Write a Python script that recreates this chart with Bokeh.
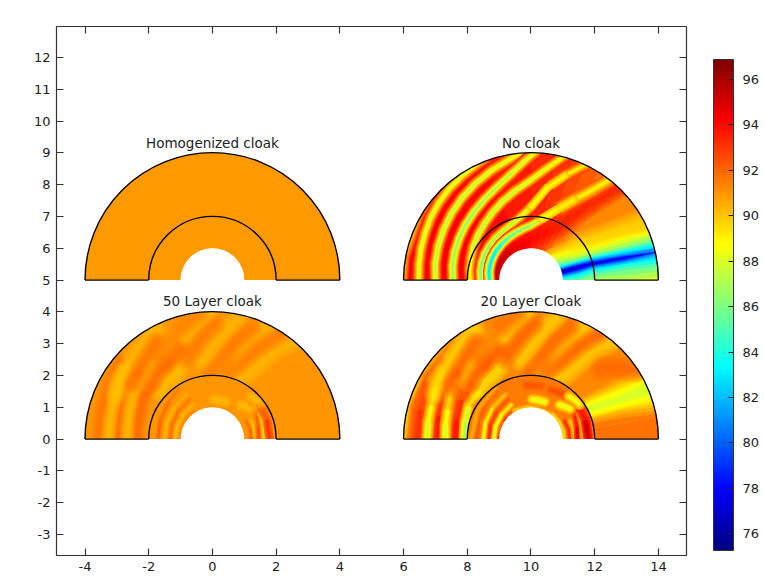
import math
from bokeh.plotting import figure
from bokeh.models import LinearColorMapper, ColorBar, FixedTicker, LinearAxis, Label, Range1d, ColumnDataSource
from bokeh.embed import file_html
from bokeh.resources import INLINE

X_TICKS = [-4, -2, 0, 2, 4, 6, 8, 10, 12, 14]
Y_TICKS = [-3, -2, -1, 0, 1, 2, 3, 4, 5, 6, 7, 8, 9, 10, 11, 12]
CBAR_TICKS = [76, 78, 80, 82, 84, 86, 88, 90, 92, 94, 96]
CBAR_LOW, CBAR_HIGH = 75.26, 96.88

PANEL_NAMES = ["Homogenized cloak", "No cloak", "50 Layer cloak", "20 Layer Cloak"]
PANEL_CENTERS = [(0, 5), (10, 5), (0, 0), (10, 0)]
PANEL_TEXT_Y = [9.3, 9.3, 4.33, 4.33]

# ---- sound level (dB). Sectors: (dB, from deg, to deg)
HOMOG_BASE = [(90.9, 0, 180)]
NO_BASE = [(91.3, 0, 46), (91.5, 46, 52), (91.8, 52, 58), (92.2, 58, 64), (92.6, 64, 70), (93, 70, 78), (93.3, 78, 90), (93.6, 90, 110), (94, 110, 132), (94.2, 132, 180)]
L50_BASE = [(91, 0, 180)]
L20_BASE = [(91.8, 0, 10), (91.6, 10, 14), (91.3, 14, 180)]
L50_INNER = [(91, 0, 180)]
L20_INNER = [(91.5, 0, 180)]

# Level bands: (dB, lower angle at each radius, upper angle at each radius)
BAND_R = [0.9, 1.5, 2, 3, 4.2]
NO_BANDS = [
 (91, [-3, -3, -3, -3, -3], [70, 52, 41, 33, 28]),
 (90.6, [-3, -3, -3, -3, -3], [67, 50, 39, 31.5, 27]),
 (90.2, [-3, -3, -3, -3, -3], [64, 47, 36, 29.5, 25.5]),
 (89.7, [-3, -3, -3, -3, -3], [60, 44, 34, 28, 24]),
 (89, [-3, -3, -3, -3, -3], [55, 40, 32, 26.5, 22.5]),
 (88.5, [-3, -3, -3, -3, -3], [51, 36, 30, 25, 21.7]),
 (88, [-3, -3, -3, -3, -1], [48, 33, 28, 24, 21]),
 (87, [-3, -3, -3, 0, 2], [42, 29, 25.5, 22, 20]),
 (86, [-3, -3, 2, 3, 4], [36, 26, 23.5, 20, 18.5]),
 (85, [-3, 0, 5, 6, 6], [32, 24, 22, 19, 17.5]),
 (84, [0, 3, 7, 8, 7.5], [29, 22.5, 21, 18, 16.5]),
 (83, [2, 6, 9, 9.5, 9], [27, 22, 20, 17.5, 15.5]),
 (82, [4, 8, 10.5, 10, 10.5], [24, 21, 19.5, 16.5, 14.5]),
 (81, [6, 9, 11.5, 11, 11.5], [23, 20, 18.5, 15.5, 14]),
 (80, [8, 10, 12.5, 11.5, 12.3], [21, 19, 18, 15, 12.7]),
 (79, [9.5, 11.5, 13, 12, 12.5], [20, 18, 17, 14.5, 12.5]),
 (78, [11, 12.5, 13.8, 13, 12.5], [19, 17.5, 16, 14, 12.5]),
 (77, [13, 14, 15, 13.5, 12.5], [18, 16, 15.5, 13.5, 12.5]),
]
L20_BANDS = [
 (91, [15, 15, 15, 13, 11], [45, 45, 40, 36, 35]),
 (90.5, [16.5, 16.5, 17, 15, 12.5], [43, 43, 38.5, 34.5, 33]),
 (90, [18, 18, 19, 17, 14], [42, 42, 37, 33, 31]),
 (89.5, [19.5, 19.5, 20, 18, 15.5], [40, 40, 35.5, 31.5, 29.5]),
 (89, [21, 21, 21, 19, 17], [38, 38, 34, 30, 28]),
 (88.7, [23, 23, 23, 20, 18.5], [36, 36, 32.5, 28.5, 27]),
 (88.3, [24, 24, 24.5, 21.5, 19.5], [34.5, 34.5, 31, 27, 26.5]),
 (88, [25, 25, 25.5, 23, 20.5], [33, 33, 30, 25.5, 25.5]),
]

# Wave fronts: bg level, half width, (angles, radii), level along the front
T0 = ([182, 170, 150, 135], [4.05, 4.05, 4.07, 4.1])
T1 = ([182, 172, 164, 156, 148, 140, 132, 124, 116, 110], [3.53, 3.55, 3.59, 3.64, 3.71, 3.78, 3.85, 3.92, 4.0, 4.1])
T2 = ([182, 170, 160, 150, 140, 130, 120, 110, 100, 92], [3.0, 3.05, 3.1, 3.17, 3.26, 3.37, 3.5, 3.66, 3.86, 4.1])
T3 = ([182, 170, 160, 150, 140, 130, 120, 110, 100, 92, 86], [2.45, 2.5, 2.55, 2.61, 2.69, 2.79, 2.93, 3.12, 3.42, 3.8, 4.15])
T4 = ([182, 170, 160, 150, 140, 130, 120, 110, 100, 90, 82, 76, 72], [1.9, 1.96, 2.01, 2.09, 2.18, 2.29, 2.44, 2.63, 2.85, 3.15, 3.55, 3.95, 4.25])
T5A = ([182, 170, 160, 150, 140, 130, 120, 110, 100, 90, 80], [1.57, 1.61, 1.64, 1.67, 1.7, 1.73, 1.77, 1.85, 2.0, 2.3, 2.95])
T5B = ([80, 72, 66, 62], [2.95, 3.45, 3.9, 4.25])
T5J = ([90, 80, 72], [2.3, 2.95, 3.45])
T6A = ([182, 170, 160, 150, 140, 130, 120, 110, 100, 90, 80, 70], [1.3, 1.34, 1.37, 1.4, 1.43, 1.46, 1.5, 1.55, 1.62, 1.72, 1.95, 2.35])
T6B = ([70, 62, 56, 52, 49], [2.35, 2.85, 3.4, 4.0, 4.4])
T6J = ([80, 70, 62], [1.95, 2.35, 2.85])
DARK = ([182, 160, 140, 120, 100], [1.1, 1.1, 1.1, 1.12, 1.15])
PEAK = ([90, 75, 63, 55, 50, 46], [1.3, 1.5, 1.83, 2.6, 3.3, 4.1])
DIP = ([38, 30.6, 28], [1.8, 2.96, 4.1])

NO_STRIPES = [
 (93.3, 6, T5B, [88.5, 89, 89, 89]),
 (92.6, 7, T6B, [89, 89, 89, 89, 89]),
 (94, 6, DARK, [95.5, 95.5, 95.5, 95, 94]),
 (93.5, 6, T0, [89, 89.5, 90, 91]),
 (94.2, 6.5, T1, [88, 88, 88, 88, 88, 88, 88, 88, 88.5, 89]),
 (94.2, 6.5, T2, [87.5, 87.5, 87.5, 87.5, 87.5, 87.5, 87.5, 88, 88, 88.5]),
 (94.2, 6.5, T3, [86.5, 86.5, 86.5, 86.5, 86.5, 86.5, 87, 87, 87.5, 88, 88.5]),
 (94.2, 6.5, T4, [89, 88.5, 88, 87.5, 87.5, 87.5, 87.5, 87.5, 87.5, 88, 88, 88.5, 89]),
 (94.2, 6, T5A, [86, 86, 86, 86, 86.5, 87, 87, 87.5, 87.5, 88, 88.5]),
 (94.2, 6, T6A, [83, 83, 83, 83, 83, 84, 85, 85.5, 86, 86.5, 87.5, 89]),
 (90.5, 4, T5J, [88.3, 88.7, 89]),
 (90.5, 4.5, T6J, [88, 89, 89]),
]

E1 = ([182, 165, 150, 130], [4.03, 4.03, 4.03, 4.05])
L1 = ([182, 170, 161, 151, 142], [3.27, 3.27, 3.3, 3.42, 3.55])
L2 = ([182, 170, 160, 151.6, 143], [2.69, 2.72, 2.78, 2.88, 3.0])
L3 = ([182, 165, 151.6, 139], [2.1, 2.13, 2.22, 2.22])
H1 = ([182, 165, 150, 140], [3.58, 3.6, 3.7, 3.8])
H2 = ([182, 165, 150, 140], [2.95, 2.97, 3.05, 3.12])
H3 = ([182, 165, 150, 140], [2.38, 2.4, 2.5, 2.6])
Y1 = ([155, 149, 136.3, 124.8, 117], [3.35, 3.45, 3.5, 3.71, 3.9])
Y2 = ([138, 130, 117.7, 110], [2.72, 2.88, 3.2, 3.4])
Y3 = ([138, 130.5, 120, 112], [2.2, 2.29, 2.32, 2.5])
Y4 = ([114, 107, 98.4, 92], [3.0, 3.3, 3.72, 4.0])
Y6 = ([98, 91.5, 82.6, 78], [2.5, 2.84, 3.5, 3.95])
Y7 = ([84, 77, 69.4, 64], [2.15, 2.48, 3.37, 3.95])
Y8 = ([66, 61.7, 54.5, 50], [2.05, 2.27, 3.48, 4.0])
R1 = ([145, 137, 128, 120], [3.05, 3.17, 3.34, 3.55])
R2 = ([138, 130, 118, 110], [2.55, 2.7, 2.81, 3.0])
R3 = ([123, 115, 103.5, 96], [3.05, 3.3, 3.67, 3.95])
R4 = ([108, 101, 94, 88], [2.6, 2.89, 3.26, 3.6])
R5 = ([90, 84, 76, 70], [2.1, 2.38, 3.14, 3.7])
R6 = ([76, 70, 62, 57], [2.2, 2.52, 3.33, 3.9])
R7 = ([45, 42, 36, 33], [3.1, 3.4, 3.7, 3.95])

L20_STRIPES = [
 (91.8, 8, H1, [93.3, 93, 92.2, 91.5]),
 (91.8, 8, H2, [93.8, 93.5, 92.5, 91.5]),
 (91.8, 8, H3, [94, 93.5, 92.8, 91.8]),
 (91.8, 5, E1, [89.3, 89.5, 90, 90.8]),
 (91.8, 6, L1, [87.5, 88, 89, 90.3, 91]),
 (91.8, 6, L2, [87.5, 88, 89, 90.3, 91]),
 (91.8, 6, L3, [86.5, 87, 88.5, 90.5]),
]
L50_STRIPES = []

# Soft streaks: (track, level they lean to, half width), stacked with transparency
NO_SOFT_UNDER = [(PEAK, 94.3, 11), (DIP, 89.3, 12)]
L20_SOFT = [
 (Y1, 89, 11), (Y2, 88.8, 11), (Y3, 88.6, 10), (Y4, 89.2, 11), (Y6, 89.2, 11), (Y7, 89.2, 11), (Y8, 89.3, 11),
 (R1, 92.3, 10), (R2, 92.8, 10), (R3, 92.1, 10), (R4, 92.1, 10), (R5, 92.3, 10), (R6, 92.1, 10), (R7, 92.2, 12),
]
L50_SOFT = [
 (H1, 91.9, 8), (H2, 92.1, 8), (H3, 92.1, 8), (L1, 90, 8), (L2, 90, 8),
 (Y1, 90, 11), (Y2, 89.9, 11), (Y3, 89.8, 10), (Y4, 90, 11), (Y6, 90.1, 11), (Y7, 90.1, 11), (Y8, 90.1, 11),
 (R1, 91.9, 10), (R2, 92.4, 10), (R3, 91.7, 10), (R4, 91.7, 10), (R5, 91.8, 10), (R6, 91.6, 10),
]

I1 = ([182, 160, 140, 120], [1.17, 1.18, 1.2, 1.24])
I2 = ([182, 160, 140, 120], [1.5, 1.52, 1.56, 1.62])
I3 = ([182, 140, 125], [1.02, 1.02, 1.02])
I4 = ([182, 160, 140, 120], [1.33, 1.35, 1.38, 1.44])
I5 = ([182, 160, 140, 125], [1.72, 1.74, 1.8, 1.88])
I6 = ([182, 150, 125], [1.9, 1.92, 1.95])
TOP = ([120, 90, 50], [1.05, 1.03, 1.03])
B1 = ([-2, 15, 30, 50], [1.05, 1.05, 1.05, 1.03])
B2 = ([-2, 15, 28], [1.23, 1.23, 1.2])
B3 = ([-2, 15, 25], [1.37, 1.37, 1.35])
B4 = ([-2, 15, 28, 43], [1.47, 1.5, 1.58, 1.62])
B5 = ([-2, 15, 28], [1.63, 1.65, 1.7])
B6 = ([-2, 20, 35], [1.81, 1.82, 1.83])
G1 = ([50, 44, 38], [1.4, 1.47, 1.55])
G2 = ([48, 41, 36], [1.8, 1.85, 1.88])
G3 = ([88, 79, 70], [1.25, 1.24, 1.25])
H4 = ([68, 59.5, 52], [1.68, 1.71, 1.74])
H5 = ([95, 87, 79], [1.7, 1.69, 1.7])

L20_INNER_STRIPES = [
 (91.5, 3, I3, [93.5, 93, 92]),
 (91.5, 3, I4, [93.5, 93, 92.5, 92]),
 (91.5, 3, I5, [92.2, 92.2, 92, 92]),
 (91.5, 3, I6, [90.5, 90.5, 90.8]),
 (91.5, 3, I1, [87.5, 88, 88.5, 89.5]),
 (91.5, 3, I2, [88, 88.5, 89.5, 90.5]),
 (91.5, 3, TOP, [90, 89.8, 89.8]),
 (91.5, 3, B1, [89.5, 89.5, 89.5, 89.5]),
 (91.5, 3, B2, [93.5, 93.5, 93]),
 (91.5, 3, B3, [90, 90, 90]),
 (92, 3.5, B4, [95, 94.5, 93, 92.5]),
 (92, 3, B5, [90, 90, 90]),
 (92.5, 5, B6, [96, 95, 92.5]),
 (91.5, 6, H4, [92, 93, 92]),
 (91.5, 6, H5, [92, 92.8, 92]),
 (91.5, 6, G1, [90, 86.5, 90]),
 (91.5, 6, G2, [90, 87, 90]),
 (91.5, 6, G3, [90, 86.5, 90]),
]
L20_INNER_SOFT = []
L50_INNER_STRIPES = [
 (91, 3, I3, [91.5, 91.5, 91]),
 (91, 3, I4, [91.8, 91.8, 91.6, 91.4]),
 (91, 3, I5, [92, 92, 91.6, 91.4]),
 (91, 3, I1, [90.2, 90.2, 90.3, 90.5]),
 (91, 3, I2, [90.3, 90.3, 90.4, 90.6]),
 (91, 3, B2, [92, 92, 91.5]),
 (91, 3, B3, [90, 90, 90.3]),
 (91, 3.5, B4, [92.6, 92.4, 91.8, 91.4]),
 (91, 3, B5, [89.5, 89.5, 90]),
 (91.5, 4.5, B6, [93.2, 92.8, 91.5]),
]
L50_INNER_SOFT = [(G1, 89.8, 6), (G2, 89.8, 6), (G3, 90, 6)]

PANEL_BASE = [HOMOG_BASE, NO_BASE, L50_BASE, L20_BASE]
PANEL_BANDS = [[], NO_BANDS, [], L20_BANDS]
PANEL_SOFT_UNDER = [[], NO_SOFT_UNDER, [], []]
PANEL_STRIPES = [[], NO_STRIPES, L50_STRIPES, L20_STRIPES]
PANEL_SOFT_OVER = [[], [], L50_SOFT, L20_SOFT]
PANEL_INNER = [[], [], L50_INNER, L20_INNER]
PANEL_INNER_STRIPES = [[], [], L50_INNER_STRIPES, L20_INNER_STRIPES]
PANEL_INNER_SOFT = [[], [], L50_INNER_SOFT, L20_INNER_SOFT]

# jet colour stops for the colour scale
STOPS = [(0.0, (0, 0, 128)), (0.125, (0, 0, 255)), (0.375, (0, 255, 255)),
         (0.625, (255, 255, 0)), (0.875, (255, 0, 0)), (1.0, (128, 0, 0))]
# soft edge of a front: share of the way to its level, and share of its width
EDGE_SHARE = [0.1, 0.2, 0.3, 0.4, 0.5, 0.6, 0.7, 0.8, 0.9, 1.0]
EDGE_WIDTH = [1.0, 0.9, 0.8, 0.7, 0.6, 0.5, 0.4, 0.31, 0.23, 0.15]
SOFT_WIDTH = [1.0, 0.84, 0.68, 0.52, 0.36, 0.2]
SOFT_ALPHA = 0.16

def jet(n=256):
    out = []
    for i in range(n):
        t = i / (n - 1)
        for (a, ca), (b, cb) in zip(STOPS, STOPS[1:]):
            if t <= b:
                f = (t - a) / (b - a)
                c = [round(u + (v - u) * f) for u, v in zip(ca, cb)]
                out.append("#%02x%02x%02x" % tuple(c))
                break
    return out

mapper = LinearColorMapper(palette=jet(), low=CBAR_LOW, high=CBAR_HIGH)
colour = {"field": "v", "transform": mapper}

PX_X0, PX_XS = 212.3, 31.83
PX_Y0, PX_YS = 438.6, 31.8
def dx(px): return (px - PX_X0) / PX_XS
def dy(py): return (PX_Y0 - py) / PX_YS
def pol(c, th, r):
    a = math.radians(th)
    return c[0] + r * math.cos(a), c[1] + r * math.sin(a)

p = figure(width=764, height=581, output_backend="svg", toolbar_location=None,
           x_range=Range1d(dx(56.5), dx(686)), y_range=Range1d(dy(555), dy(26)),
           min_border_left=56, min_border_right=78, min_border_top=26, min_border_bottom=26,
           background_fill_color="white", border_fill_color="white")
p.grid.visible = False
p.outline_line_color = "#333333"

def draw_sectors(c, sectors, ri, ro):
    src = ColumnDataSource(dict(x=[c[0]] * len(sectors), y=[c[1]] * len(sectors),
                                v=[s[0] for s in sectors],
                                a0=[math.radians(s[1]) for s in sectors],
                                a1=[math.radians(s[2]) for s in sectors]))
    p.annular_wedge(x="x", y="y", inner_radius=ri, outer_radius=ro, start_angle="a0", end_angle="a1",
                    fill_color=colour, line_color=colour, line_width=0.4, source=src)

def draw_bands(c, bands):
    if not bands:
        return
    xs, ys, vs = [], [], []
    for v, lo, hi in bands:
        pts = [pol(c, t, r) for t, r in zip(lo, BAND_R)] + [pol(c, t, r) for t, r in zip(reversed(hi), reversed(BAND_R))]
        xs.append([q[0] for q in pts]); ys.append([q[1] for q in pts]); vs.append(v)
    p.patches(xs="xs", ys="ys", fill_color=colour, line_color=None, source=ColumnDataSource(dict(xs=xs, ys=ys, v=vs)))

def draw_stripes(c, stripes):
    if not stripes:
        return
    d = dict(x0=[], y0=[], x1=[], y1=[], v=[], w=[])
    for bg, hw, (ths, rs), core in stripes:
        for share, wid in zip(EDGE_SHARE, EDGE_WIDTH):
            for i in range(len(ths) - 1):
                a, b = pol(c, ths[i], rs[i]), pol(c, ths[i + 1], rs[i + 1])
                d["x0"].append(a[0]); d["y0"].append(a[1]); d["x1"].append(b[0]); d["y1"].append(b[1])
                d["v"].append(bg + (0.5 * (core[i] + core[i + 1]) - bg) * share)
                d["w"].append(2 * hw * wid)
    p.segment(x0="x0", y0="y0", x1="x1", y1="y1", line_color=colour, line_width="w", line_cap="round",
              source=ColumnDataSource(d))

def draw_soft(c, soft):
    if not soft:
        return
    d = dict(xs=[], ys=[], v=[], w=[])
    for (ths, rs), level, hw in soft:
        pts = [pol(c, t, r) for t, r in zip(ths, rs)]
        for wid in SOFT_WIDTH:
            d["xs"].append([q[0] for q in pts]); d["ys"].append([q[1] for q in pts])
            d["v"].append(level); d["w"].append(2 * hw * wid)
    p.multi_line(xs="xs", ys="ys", line_color=colour, line_width="w", line_alpha=SOFT_ALPHA,
                 line_cap="round", line_join="round", source=ColumnDataSource(d))

for i, c in enumerate(PANEL_CENTERS):
    draw_sectors(c, PANEL_BASE[i], 1, 4)
    draw_bands(c, PANEL_BANDS[i])
    draw_soft(c, PANEL_SOFT_UNDER[i])
    draw_stripes(c, PANEL_STRIPES[i])
    draw_soft(c, PANEL_SOFT_OVER[i])
    if PANEL_INNER[i]:
        draw_sectors(c, PANEL_INNER[i], 1, 2)
    draw_stripes(c, PANEL_INNER_STRIPES[i])
    draw_soft(c, PANEL_INNER_SOFT[i])
    # white surroundings keep the field inside its half ring
    p.annular_wedge(x=[c[0]], y=[c[1]], inner_radius=4, outer_radius=4.65, start_angle=0, end_angle=math.pi, fill_color="white", line_color=None)
    p.wedge(x=[c[0]], y=[c[1]], radius=1, start_angle=-0.1, end_angle=math.pi + 0.1, fill_color="white", line_color=None)
    p.quad(left=[c[0] - 4.7], right=[c[0] + 4.7], top=[c[1]], bottom=[c[1] - 0.45], fill_color="white", line_color=None)
    for r in (2, 4):
        p.arc(x=[c[0]], y=[c[1]], radius=r, start_angle=0, end_angle=math.pi, line_color="black", line_width=1.4)
    p.segment(x0=[c[0] - 4, c[0] + 2], y0=[c[1], c[1]], x1=[c[0] - 2, c[0] + 4], y1=[c[1], c[1]], line_color="black", line_width=1.4)

FONT = "DejaVu Sans"
for name, c, ty in zip(PANEL_NAMES, PANEL_CENTERS, PANEL_TEXT_Y):
    p.add_layout(Label(x=c[0], y=ty, text=name, text_align="center", text_baseline="middle",
                       text_font=FONT, text_font_size="13.5px", text_color="#222222"))

for txt, px, py, al in [("freq(1)=300 Hz", 26, 10, "left"),
                        ("Surface: Total sound pressure level (dB)", 235, 10, "left"),
                        ("m", 13, 26, "center"), ("m", 683, 569, "center")]:
    p.add_layout(Label(x=dx(px), y=dy(py), text=txt, text_align=al, text_baseline="middle",
                       text_font=FONT, text_font_size="13px", text_color="#222222"))

def style(ax, ticks, labels=True):
    ax.ticker = FixedTicker(ticks=ticks)
    ax.major_tick_in = 7
    ax.major_tick_out = 0
    ax.minor_tick_line_color = None
    ax.axis_line_color = "#333333"
    ax.major_tick_line_color = "#333333"
    ax.axis_line_width = 1.2
    ax.major_tick_line_width = 1.2
    ax.major_label_overrides = {t: (str(t) if labels else "") for t in ticks}
    ax.major_label_text_font = FONT
    ax.major_label_text_font_size = "13px"
    ax.major_label_text_color = "#222222"
    ax.major_label_standoff = 6 if labels else 0

style(p.xaxis[0], X_TICKS)
style(p.yaxis[0], Y_TICKS)
top = LinearAxis(); style(top, X_TICKS, labels=False); p.add_layout(top, "above")
right = LinearAxis(); style(right, Y_TICKS, labels=False); p.add_layout(right, "right")

cb = ColorBar(color_mapper=mapper, ticker=FixedTicker(ticks=CBAR_TICKS), location=(657, 5),
              width=20, height=491, padding=0, margin=0, major_tick_in=5, major_tick_out=0,
              major_tick_line_color="#222222", minor_tick_line_color=None, bar_line_color="#333333",
              border_line_color=None, background_fill_color=None, label_standoff=9,
              major_label_text_font=FONT, major_label_text_font_size="13px", major_label_text_color="#222222")
p.add_layout(cb)

open("out.html", "w").write(file_html(p, INLINE))
